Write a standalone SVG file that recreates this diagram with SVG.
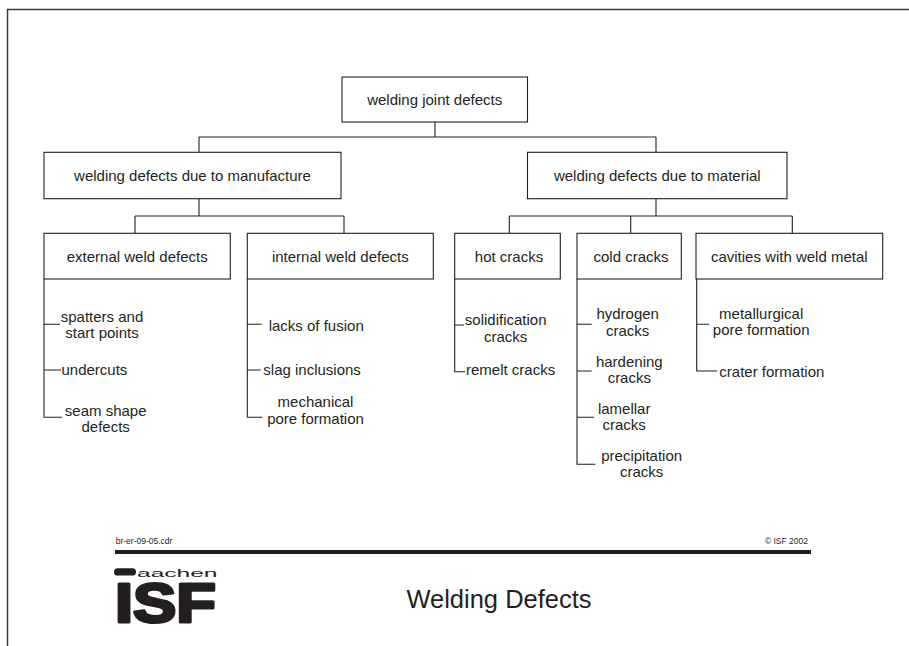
<svg xmlns="http://www.w3.org/2000/svg" width="909" height="646" viewBox="0 0 909 646">
<style>
  .box { fill: #ffffff; stroke: #231f20; stroke-width: 1.1; }
  .ln { fill: none; stroke: #231f20; stroke-width: 1.1; }
  .t { font-family: "Liberation Sans", Arial, sans-serif; font-size: 15px; fill: #231f20; }
  .m { text-anchor: middle; }
  .small { font-family: "Liberation Sans", Arial, sans-serif; font-size: 8.5px; fill: #231f20; }
</style>
<rect x="0" y="0" width="909" height="646" fill="#ffffff"/>
<g id="frame">
  <path d="M7.5,646 V9.5 H909" fill="none" stroke="#3a3a3a" stroke-width="1.5"/>
</g>

<g id="connectors">
  <path class="ln" d="M435,122 V137 M199,137 H656 M199,137 V152.3 M656,137 V152.3"/>
  <path class="ln" d="M199,198.7 V216 M135,216 H344 M135,216 V233.3 M344,216 V233.3"/>
  <path class="ln" d="M656,198.7 V216 M509.3,216 H792.3 M509.3,216 V233.3 M630.7,216 V233.3 M792.3,216 V233.3"/>
  <!-- external list -->
  <path class="ln" d="M44,279 V417.3 H62 M44,324.3 H60 M44,370 H61"/>
  <!-- internal list -->
  <path class="ln" d="M247.3,279 V417.3 H262.3 M247.3,324.3 H261.7 M247.3,370 H260.7"/>
  <!-- hot cracks list -->
  <path class="ln" d="M454.7,279 V371.7 H465.3 M454.7,325 H464"/>
  <!-- cold cracks list -->
  <path class="ln" d="M577,279 V464.3 H595.3 M577,324.3 H591.7 M577,371 H591.7 M577,417.3 H594"/>
  <!-- cavities list -->
  <path class="ln" d="M696.7,279 V371 H717.3 M696.7,324.3 H709.3"/>
</g>

<g id="node-root">
  <rect class="box" x="342" y="77" width="185.5" height="45"/>
  <text class="t m" x="434.7" y="104.5">welding joint defects</text>
</g>
<g id="node-manufacture">
  <rect class="box" x="44" y="152.3" width="297" height="46.4"/>
  <text class="t m" x="192.5" y="180.5">welding defects due to manufacture</text>
</g>
<g id="node-material">
  <rect class="box" x="527.5" y="152.3" width="259.5" height="46.4"/>
  <text class="t m" x="657.3" y="180.5">welding defects due to material</text>
</g>
<g id="node-external">
  <rect class="box" x="44" y="233.3" width="186.3" height="45.7"/>
  <text class="t m" x="137.2" y="262">external weld defects</text>
</g>
<g id="node-internal">
  <rect class="box" x="247.3" y="233.3" width="186" height="45.7"/>
  <text class="t m" x="340.3" y="262">internal weld defects</text>
</g>
<g id="node-hot">
  <rect class="box" x="454.7" y="233.3" width="105.6" height="45.7"/>
  <text class="t m" x="509" y="262">hot cracks</text>
</g>
<g id="node-cold">
  <rect class="box" x="577" y="233.3" width="104.3" height="45.7"/>
  <text class="t m" x="631" y="262">cold cracks</text>
</g>
<g id="node-cavities">
  <rect class="box" x="696" y="233.3" width="186.7" height="45.7"/>
  <text class="t m" x="789.3" y="262">cavities with weld metal</text>
</g>

<g id="list-external">
  <text class="t m" x="102" y="321.5">spatters and</text>
  <text class="t m" x="102" y="337.7">start points</text>
  <text class="t" x="61.5" y="375">undercuts</text>
  <text class="t m" x="105.7" y="415.7">seam shape</text>
  <text class="t m" x="105.7" y="431.7">defects</text>
</g>
<g id="list-internal">
  <text class="t" x="268.7" y="331">lacks of fusion</text>
  <text class="t" x="263.3" y="374.5">slag inclusions</text>
  <text class="t m" x="315.5" y="407">mechanical</text>
  <text class="t m" x="315.5" y="424">pore formation</text>
</g>
<g id="list-hot">
  <text class="t m" x="505.7" y="325">solidification</text>
  <text class="t m" x="505.7" y="341.7">cracks</text>
  <text class="t" x="466" y="374.5">remelt cracks</text>
</g>
<g id="list-cold">
  <text class="t m" x="627.7" y="319.3">hydrogen</text>
  <text class="t m" x="627.7" y="335.7">cracks</text>
  <text class="t m" x="629.3" y="366.7">hardening</text>
  <text class="t m" x="629.3" y="382.7">cracks</text>
  <text class="t m" x="624.2" y="414.3">lamellar</text>
  <text class="t m" x="624.2" y="430.3">cracks</text>
  <text class="t m" x="641.7" y="460.7">precipitation</text>
  <text class="t m" x="641.7" y="476.7">cracks</text>
</g>
<g id="list-cavities">
  <text class="t m" x="761.2" y="319.3">metallurgical</text>
  <text class="t m" x="761.2" y="335">pore formation</text>
  <text class="t" x="719.3" y="376.7">crater formation</text>
</g>

<g id="footer">
  <text class="small" x="115.7" y="544">br-er-09-05.cdr</text>
  <text class="small" x="808" y="543.5" text-anchor="end">© ISF 2002</text>
  <rect x="115" y="550" width="696" height="4" fill="#231f20"/>
  <text x="499" y="608" text-anchor="middle" font-family="'Liberation Sans', Arial, sans-serif" font-size="25.5" fill="#231f20">Welding Defects</text>
</g>

<g id="logo">
  <rect x="114" y="568.3" width="22" height="7.2" rx="3.6" fill="#231f20"/>
  <text x="137" y="576.7" font-family="'Liberation Sans', Arial, sans-serif" font-size="11.5" fill="#231f20" textLength="80.5" lengthAdjust="spacingAndGlyphs">aachen</text>
  <text x="115" y="621.5" font-family="'Liberation Sans', Arial, sans-serif" font-weight="bold" font-size="55" fill="#231f20" stroke="#231f20" stroke-width="3" stroke-linejoin="round" textLength="101" lengthAdjust="spacingAndGlyphs">ISF</text>
</g>
</svg>
